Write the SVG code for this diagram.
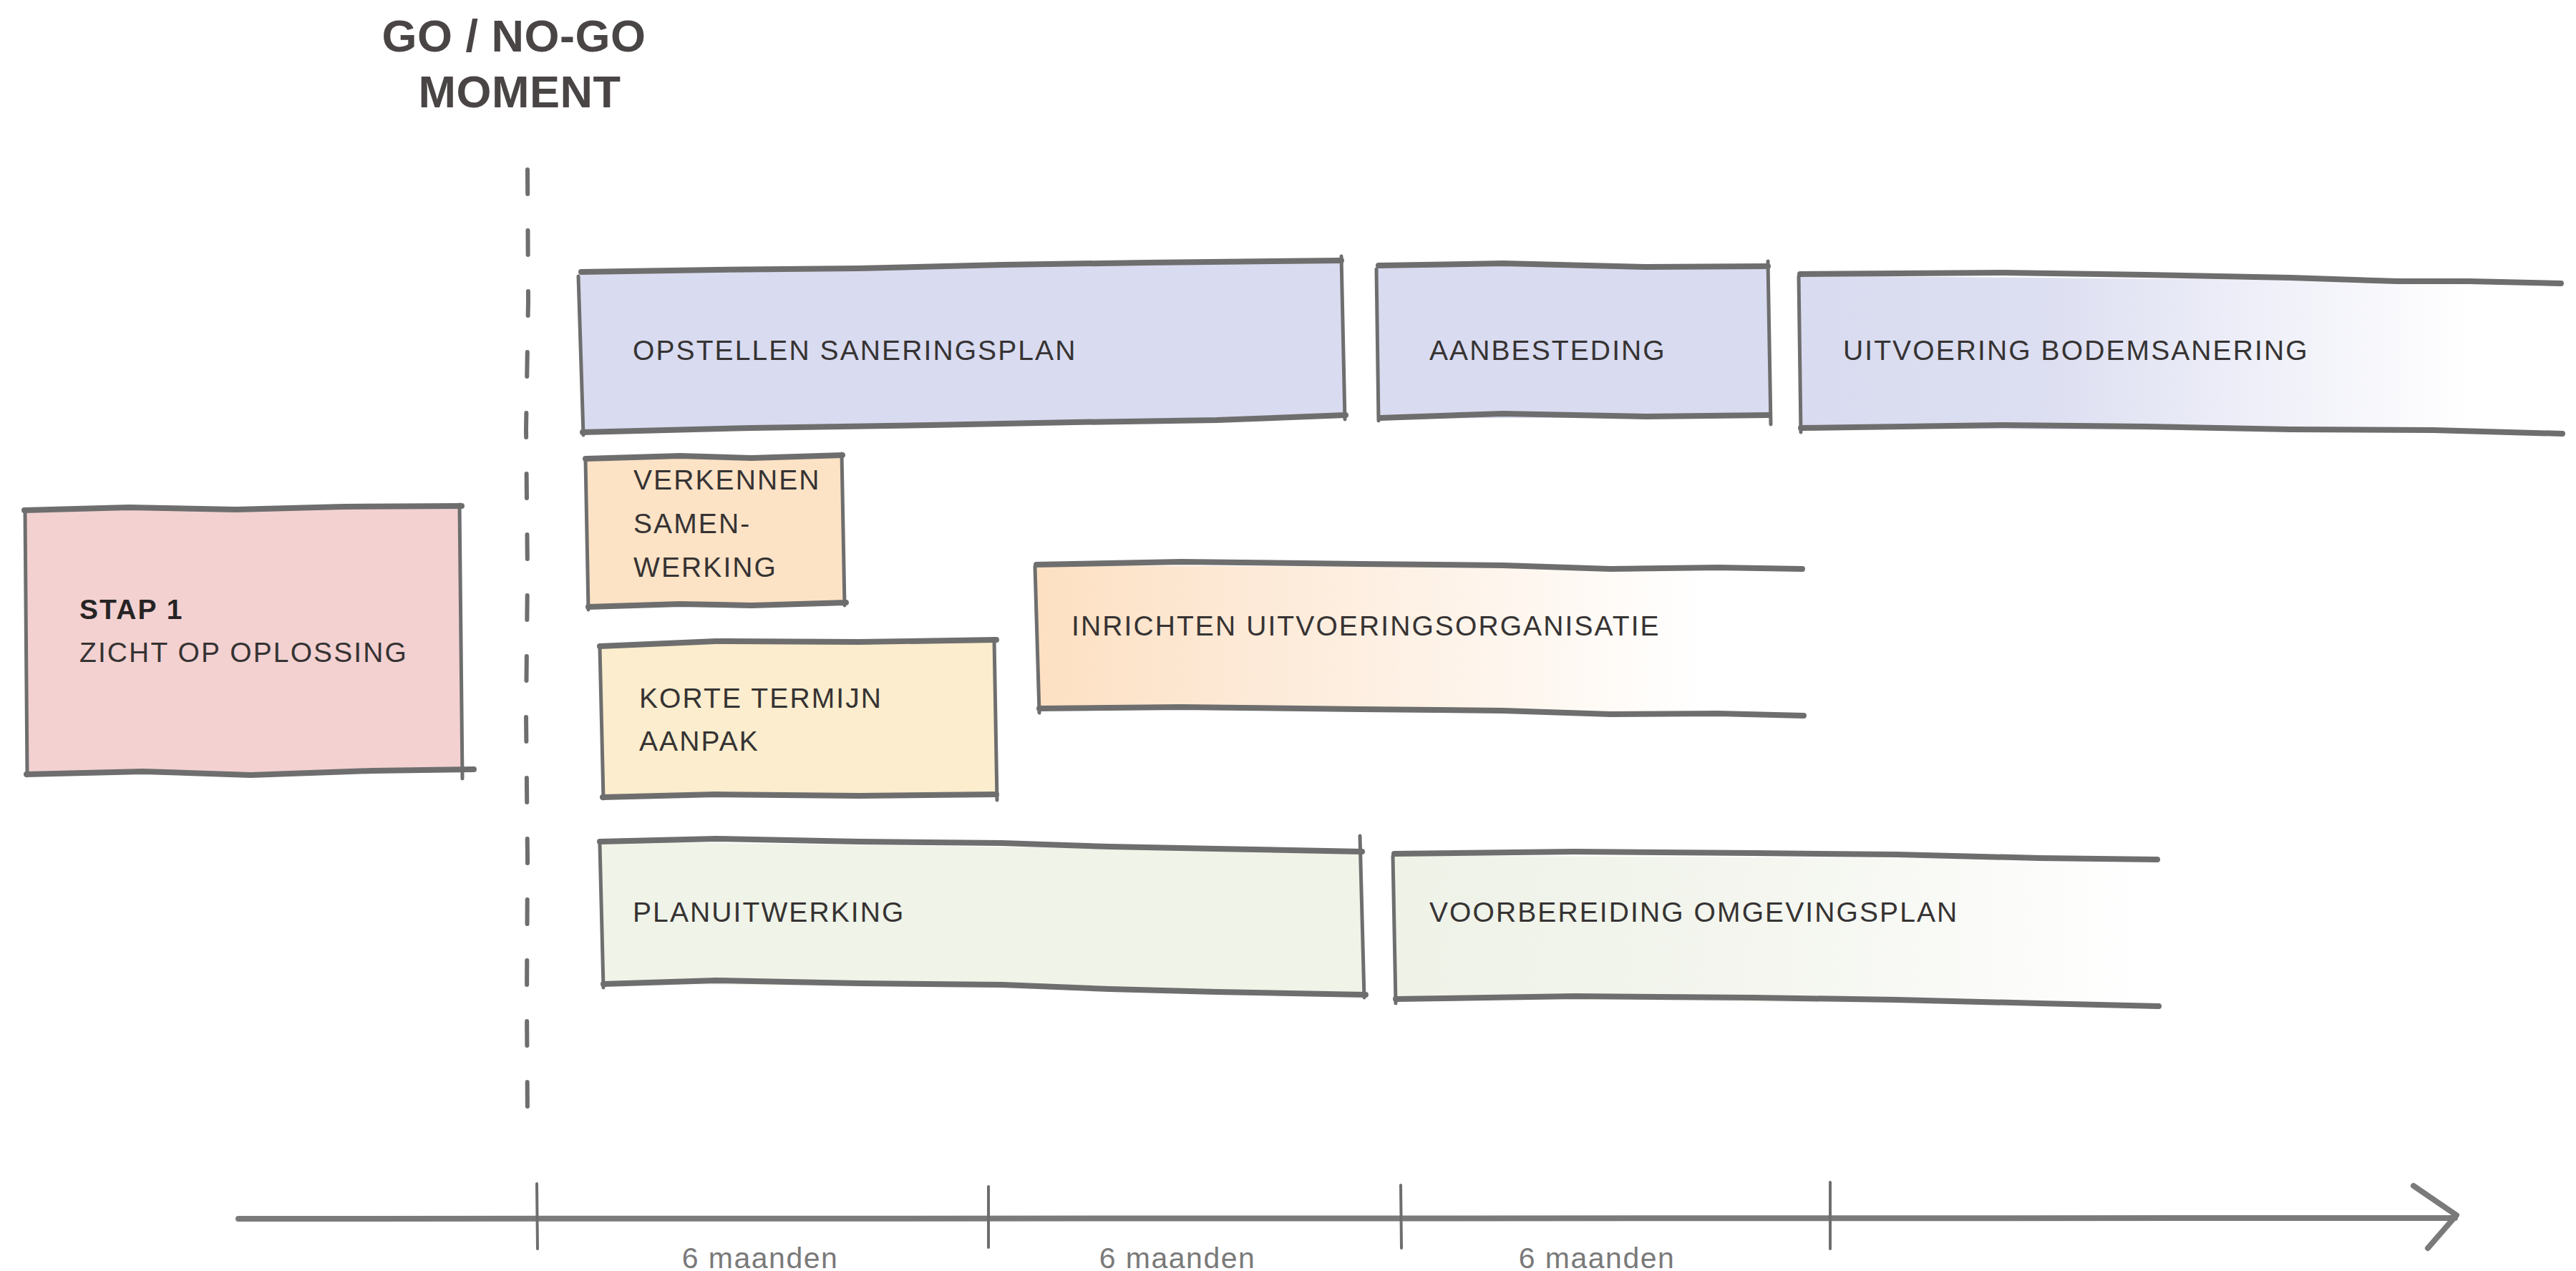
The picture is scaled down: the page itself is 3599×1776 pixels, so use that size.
<svg xmlns="http://www.w3.org/2000/svg" width="3599" height="1776" viewBox="0 0 3599 1776">
<style>
  .lbl{font-family:"Liberation Sans",Arial,sans-serif;font-size:39px;letter-spacing:2.1px;fill:#363333}
  .bold{font-weight:bold;fill:#262424}
  .ttl{font-family:"Liberation Sans",Arial,sans-serif;font-weight:bold;font-size:63px;letter-spacing:0.5px;fill:#4a4545;text-anchor:middle}
  .dur{font-family:"Liberation Sans",Arial,sans-serif;font-size:41px;letter-spacing:1.5px;fill:#7a7a7a;text-anchor:middle}
  .h{fill:none;stroke:#6e6e6e;stroke-width:8;stroke-linecap:round;stroke-linejoin:round}
  .v{fill:none;stroke:#6e6e6e;stroke-width:5;stroke-linecap:round;stroke-linejoin:round}
  .axis{fill:none;stroke:#7a7a7a;stroke-width:8;stroke-linecap:round;stroke-linejoin:round}
  .tick{fill:none;stroke:#6e6e6e;stroke-width:4;stroke-linecap:round}
  .dash{fill:none;stroke:#6e6e6e;stroke-width:6;stroke-linecap:round;stroke-dasharray:34 51}
</style>
<defs>
  <linearGradient id="gLav" gradientUnits="userSpaceOnUse" x1="2515" y1="0" x2="3450" y2="0">
    <stop offset="0" stop-color="#d9dbf0"/>
    <stop offset="0.35" stop-color="#dcdef1"/>
    <stop offset="1" stop-color="#ffffff"/>
  </linearGradient>
  <linearGradient id="gPeach" gradientUnits="userSpaceOnUse" x1="1448" y1="0" x2="2380" y2="0">
    <stop offset="0" stop-color="#fde0c2"/>
    <stop offset="0.3" stop-color="#fde9d6"/>
    <stop offset="1" stop-color="#ffffff"/>
  </linearGradient>
  <linearGradient id="gGreen" gradientUnits="userSpaceOnUse" x1="1948" y1="0" x2="3000" y2="0">
    <stop offset="0" stop-color="#eef2e7"/>
    <stop offset="0.5" stop-color="#f4f6ef"/>
    <stop offset="1" stop-color="#ffffff"/>
  </linearGradient>
</defs>
<rect width="3599" height="1776" fill="#ffffff"/>

<g id="title">
  <text class="ttl" x="718" y="72">GO / NO-GO</text>
  <text class="ttl" x="726" y="150">MOMENT</text>
</g>

<g id="connectors">
  <path id="go-no-go-line" class="dash" d="M737,237 L738,420 L735,600 L737,800 L735,1000 L737,1200 L736,1400 L737,1565"/>
  <g id="timeline">
    <path class="axis" d="M333,1703 L3430,1702"/>
    <path class="axis" d="M3372,1657 L3432,1698 L3392,1744"/>
    <path class="tick" d="M750,1654 L751,1745"/>
    <path class="tick" d="M1381,1658 L1381,1743"/>
    <path class="tick" d="M1957,1656 L1958,1744"/>
    <path class="tick" d="M2557,1652 L2557,1745"/>
    <text class="dur" x="1062" y="1772">6 maanden</text>
    <text class="dur" x="1645" y="1772">6 maanden</text>
    <text class="dur" x="2231" y="1772">6 maanden</text>
  </g>
</g>

<g id="stap1">
  <path d="M36,712 L642,706 L646,1076 L38,1082 Z" fill="#f3d1d1"/>
  <path class="h" d="M34,713 L180,709 L330,712 L480,708 L645,707"/>
  <path class="h" d="M37,1082 L200,1078 L350,1083 L520,1077 L662,1075"/>
  <path class="v" d="M35,713 L38,1084"/>
  <path class="v" d="M642,705 L646,1088"/>
  <text class="lbl bold" x="111" y="865">STAP 1</text>
  <text class="lbl" x="111" y="925">ZICHT OP OPLOSSING</text>
</g>

<g id="opstellen-saneringsplan">
  <path d="M810,382 L1875,364 L1880,580 L814,604 Z" fill="#d9dbf0"/>
  <path class="h" d="M812,380 L1000,377 L1200,375 L1400,370 L1600,367 L1874,364"/>
  <path class="h" d="M814,604 L1050,598 L1300,594 L1500,590 L1700,587 L1880,580"/>
  <path class="v" d="M808,386 L815,608"/>
  <path class="v" d="M1874,358 L1879,586"/>
  <text class="lbl" x="884" y="503">OPSTELLEN SANERINGSPLAN</text>
</g>

<g id="aanbesteding">
  <path d="M1925,372 L2470,372 L2472,582 L1927,585 Z" fill="#d9dbf0"/>
  <path class="h" d="M1926,371 L2100,368 L2300,373 L2470,372"/>
  <path class="h" d="M1928,584 L2100,578 L2300,582 L2472,580"/>
  <path class="v" d="M1923,376 L1926,588"/>
  <path class="v" d="M2470,365 L2474,593"/>
  <text class="lbl" x="1997" y="503">AANBESTEDING</text>
</g>

<g id="uitvoering-bodemsanering">
  <path d="M2515,385 L3580,395 L3580,604 L2516,598 Z" fill="url(#gLav)"/>
  <path class="h" d="M2515,383 L2800,381 L3000,384 L3200,388 L3350,393 L3450,393 L3578,396"/>
  <path class="h" d="M2516,598 L2800,594 L3000,596 L3200,600 L3400,601 L3580,606"/>
  <path class="v" d="M2513,386 L2516,604"/>
  <text class="lbl" x="2575" y="503">UITVOERING BODEMSANERING</text>
</g>

<g id="verkennen-samenwerking">
  <path d="M820,640 L1176,636 L1180,842 L822,848 Z" fill="#fde3c6"/>
  <path class="h" d="M818,641 L950,637 L1050,640 L1177,636"/>
  <path class="h" d="M822,848 L950,844 L1050,846 L1182,842"/>
  <path class="v" d="M818,642 L822,852"/>
  <path class="v" d="M1176,634 L1180,846"/>
  <text class="lbl" x="885" y="684">VERKENNEN</text>
  <text class="lbl" x="885" y="745">SAMEN-</text>
  <text class="lbl" x="885" y="806">WERKING</text>
</g>

<g id="korte-termijn-aanpak">
  <path d="M840,902 L1390,895 L1392,1110 L842,1114 Z" fill="#fbedcd"/>
  <path class="h" d="M838,903 L1000,896 L1200,897 L1392,894"/>
  <path class="h" d="M842,1114 L1000,1110 L1200,1112 L1392,1110"/>
  <path class="v" d="M838,905 L843,1116"/>
  <path class="v" d="M1389,893 L1393,1118"/>
  <text class="lbl" x="893" y="989">KORTE TERMIJN</text>
  <text class="lbl" x="893" y="1049">AANPAK</text>
</g>

<g id="inrichten-uitvoeringsorganisatie">
  <path d="M1448,790 L2520,794 L2520,1000 L1450,990 Z" fill="url(#gPeach)"/>
  <path class="h" d="M1448,789 L1650,785 L1900,788 L2100,790 L2250,795 L2400,793 L2518,795"/>
  <path class="h" d="M1452,990 L1650,988 L1900,991 L2100,993 L2250,998 L2400,997 L2520,1000"/>
  <path class="v" d="M1446,792 L1452,996"/>
  <text class="lbl" x="1497" y="888">INRICHTEN UITVOERINGSORGANISATIE</text>
</g>

<g id="planuitwerking">
  <path d="M840,1176 L1903,1190 L1906,1386 L843,1374 Z" fill="#eff3e8"/>
  <path class="h" d="M838,1176 L1000,1172 L1200,1176 L1400,1178 L1550,1183 L1700,1186 L1903,1190"/>
  <path class="h" d="M843,1375 L1000,1370 L1200,1374 L1400,1376 L1550,1382 L1700,1386 L1908,1390"/>
  <path class="v" d="M838,1180 L843,1380"/>
  <path class="v" d="M1900,1168 L1906,1394"/>
  <text class="lbl" x="884" y="1288">PLANUITWERKING</text>
</g>

<g id="voorbereiding-omgevingsplan">
  <path d="M1948,1195 L3014,1201 L3016,1406 L1950,1394 Z" fill="url(#gGreen)"/>
  <path class="h" d="M1948,1193 L2200,1190 L2450,1192 L2650,1194 L2850,1199 L3014,1201"/>
  <path class="h" d="M1950,1396 L2200,1392 L2450,1394 L2650,1397 L2850,1402 L3016,1406"/>
  <path class="v" d="M1946,1196 L1950,1402"/>
  <text class="lbl" x="1997" y="1288">VOORBEREIDING OMGEVINGSPLAN</text>
</g>
</svg>
